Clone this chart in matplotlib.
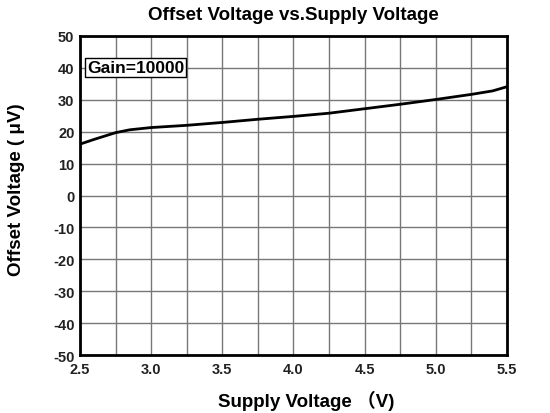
import matplotlib
matplotlib.use("Agg")
import matplotlib.pyplot as plt
import numpy as np

plt.rcParams['font.family'] = ['Liberation Sans', 'DejaVu Sans']
plt.rcParams['axes.unicode_minus'] = False

# curve
supply_v = [2.5, 2.6, 2.7, 2.75, 2.85, 3.0, 3.25, 3.5, 3.75, 4.0, 4.25, 4.5, 4.75, 5.0, 5.25, 5.4, 5.5]
offset_uv = [16.1, 17.6, 19.0, 19.7, 20.6, 21.3, 22.0, 22.9, 23.9, 24.8, 25.8, 27.2, 28.6, 30.1, 31.7, 32.8, 34.1]

x_ticks = [2.5, 3.0, 3.5, 4.0, 4.5, 5.0, 5.5]
y_ticks = list(range(-50, 51, 10))

fig = plt.figure(figsize=(5.5, 4.14), dpi=100)
ax = fig.add_axes([80 / 550, 1 - 356 / 414, 427 / 550, 319 / 414])

ax.plot(supply_v, offset_uv, color='black', lw=2.0, zorder=3)

ax.set_xlim(2.5, 5.5)
ax.set_ylim(-50, 50)
ax.set_xticks(x_ticks)
ax.set_xticklabels([f"{v:.1f}" for v in x_ticks])
ax.set_xticks(np.arange(2.5, 5.51, 0.25), minor=True)
ax.set_yticks(y_ticks)
ax.tick_params(which='both', length=0, labelsize=10.5)
ax.tick_params(axis='x', pad=5)
ax.tick_params(axis='y', pad=4)
for lab in ax.get_xticklabels() + ax.get_yticklabels():
    lab.set_fontweight('bold')
    lab.set_color('#222222')
ax.grid(True, which='both', color='#777777', lw=1.0)
ax.set_axisbelow(True)
for s in ax.spines.values():
    s.set_linewidth(2.0)
    s.set_color('black')

ax.set_title('Offset Voltage vs.Supply Voltage', fontsize=13.5, fontweight='bold', pad=12)
ax.set_xlabel('Supply Voltage （V)', fontsize=13.5, fontweight='bold',
              family=['Liberation Sans', 'Noto Sans CJK SC'])
ax.xaxis.set_label_coords(0.529, -0.11)
ax.set_ylabel('Offset Voltage ( μV)', fontsize=13.5, fontweight='bold')
ax.yaxis.set_label_coords(-0.128, 0.52)

ax.text(0.016, 0.9, 'Gain=10000', transform=ax.transAxes, fontsize=12.5, fontweight='bold',
        va='center', ha='left',
        bbox=dict(boxstyle='square,pad=0.12', fc='white', ec='black', lw=1.0))

fig.savefig('out.png', dpi=100)
